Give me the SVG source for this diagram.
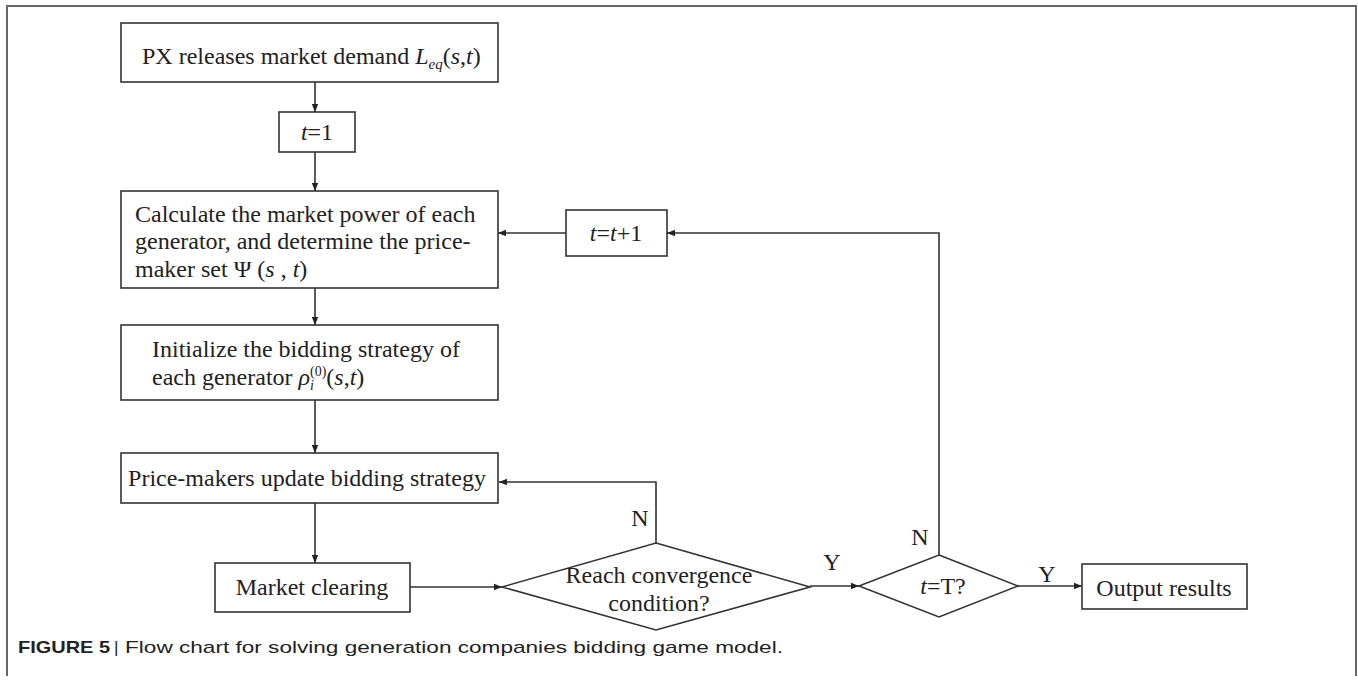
<svg xmlns="http://www.w3.org/2000/svg" width="1358" height="699" viewBox="0 0 1358 699">
<defs>
<style>
.box{fill:#fff;stroke:#333;stroke-width:1.6}
.ln{fill:none;stroke:#333;stroke-width:1.6}
.t{font-family:"Liberation Serif","Times New Roman",serif;font-size:24px;fill:#222}
.i{font-style:italic}
.cap{font-family:"Liberation Sans",Arial,sans-serif;font-size:17px;fill:#222}
</style>
<marker id="ah" viewBox="0 0 10 10" refX="10" refY="5" markerWidth="8" markerHeight="8" markerUnits="userSpaceOnUse" orient="auto">
<path d="M0,1 L10,5 L0,9 Z" fill="#222"/>
</marker>
</defs>
<rect width="1358" height="699" fill="#fff"/>
<path d="M7,676 L7,6 L1356,6 L1356,676" fill="none" stroke="#666" stroke-width="2"/>

<g id="n1">
<rect class="box" x="121" y="23" width="377" height="59"/>
<text class="t" x="142" y="64">PX releases market demand <tspan class="i">L</tspan><tspan class="i" font-size="15" dy="5">eq</tspan><tspan dy="-5">(</tspan><tspan class="i">s</tspan>,<tspan class="i">t</tspan>)</text>
</g>
<g id="n2">
<rect class="box" x="279" y="112" width="76" height="40"/>
<text class="t" x="317" y="140" text-anchor="middle"><tspan class="i">t</tspan>=1</text>
</g>
<g id="n3">
<rect class="box" x="121" y="191" width="377" height="97"/>
<text class="t" x="135" y="222">Calculate the market power of each</text>
<text class="t" x="135" y="249">generator, and determine the price-</text>
<text class="t" x="135" y="277">maker set  Ψ (<tspan class="i">s</tspan> , <tspan class="i">t</tspan>)</text>
</g>
<g id="n4">
<rect class="box" x="121" y="325" width="377" height="75"/>
<text class="t" x="152" y="357">Initialize the bidding strategy of</text>
<text class="t" x="152" y="385">each generator <tspan class="i">ρ</tspan><tspan class="i" font-size="14" dy="5">i</tspan><tspan font-size="14" dx="-4" dy="-14">(0)</tspan><tspan dy="9">(</tspan><tspan class="i">s</tspan>,<tspan class="i">t</tspan>)</text>
</g>
<g id="n5">
<rect class="box" x="121" y="453" width="377" height="50"/>
<text class="t" x="307" y="486" text-anchor="middle">Price-makers update bidding strategy</text>
</g>
<g id="n6">
<rect class="box" x="215" y="563" width="195" height="49"/>
<text class="t" x="312" y="595" text-anchor="middle">Market clearing</text>
</g>
<g id="n7">
<polygon class="box" points="656,543 810,587 656,630 502,587"/>
<text class="t" x="659" y="583" text-anchor="middle">Reach convergence</text>
<text class="t" x="659" y="611" text-anchor="middle">condition?</text>
</g>
<g id="n8">
<polygon class="box" points="939,555 1018,586 939,617 859,586"/>
<text class="t" x="943" y="594" text-anchor="middle"><tspan class="i">t</tspan>=T?</text>
</g>
<g id="n9">
<rect class="box" x="566" y="210" width="101" height="46"/>
<text class="t" x="616" y="241" text-anchor="middle"><tspan class="i">t</tspan>=<tspan class="i">t</tspan>+1</text>
</g>
<g id="n10">
<rect class="box" x="1082" y="564" width="165" height="45"/>
<text class="t" x="1164" y="596" text-anchor="middle">Output results</text>
</g>

<g id="connectors">
<line class="ln" x1="315" y1="82" x2="315" y2="112" marker-end="url(#ah)"/>
<line class="ln" x1="315" y1="152" x2="315" y2="191" marker-end="url(#ah)"/>
<line class="ln" x1="315" y1="288" x2="315" y2="325" marker-end="url(#ah)"/>
<line class="ln" x1="315" y1="400" x2="315" y2="453" marker-end="url(#ah)"/>
<line class="ln" x1="315" y1="503" x2="315" y2="563" marker-end="url(#ah)"/>
<line class="ln" x1="410" y1="587" x2="502" y2="587" marker-end="url(#ah)"/>
<polyline class="ln" points="656,543 656,482 499,482" marker-end="url(#ah)"/>
<line class="ln" x1="810" y1="586" x2="859" y2="586" marker-end="url(#ah)"/>
<polyline class="ln" points="939,555 939,233 667,233" marker-end="url(#ah)"/>
<line class="ln" x1="566" y1="233" x2="498" y2="233" marker-end="url(#ah)"/>
<line class="ln" x1="1018" y1="586" x2="1082" y2="586" marker-end="url(#ah)"/>
<text class="t" x="640" y="526" text-anchor="middle">N</text>
<text class="t" x="832" y="570" text-anchor="middle">Y</text>
<text class="t" x="920" y="545" text-anchor="middle">N</text>
<text class="t" x="1047" y="582" text-anchor="middle">Y</text>
</g>

<g id="caption">
<text class="cap" x="18" y="653"><tspan font-weight="bold" textLength="92" lengthAdjust="spacingAndGlyphs">FIGURE 5</tspan><tspan dx="4">|</tspan></text>
<text class="cap" x="125" y="653" textLength="658" lengthAdjust="spacingAndGlyphs">Flow chart for solving generation companies bidding game model.</text>
</g>
</svg>
